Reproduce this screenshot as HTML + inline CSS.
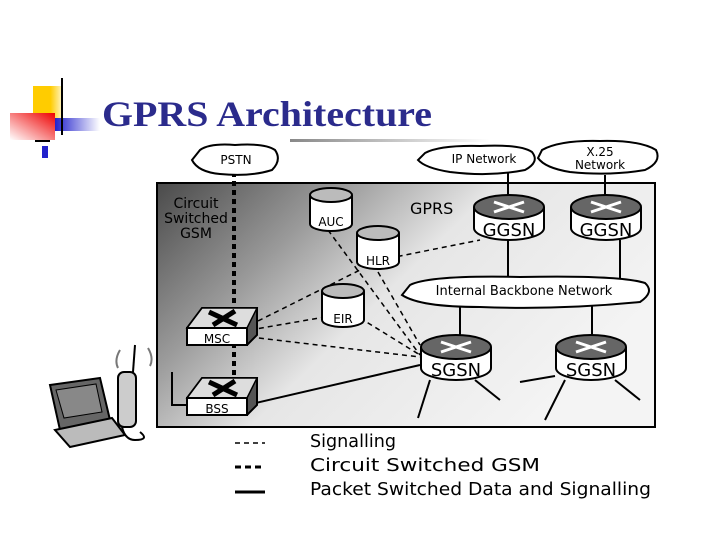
<!DOCTYPE html><html><head><style>body{margin:0;background:#fff;width:720px;height:540px;overflow:hidden}</style></head><body>
<svg width="720" height="540" xmlns="http://www.w3.org/2000/svg" font-family="'DejaVu Sans', sans-serif">
<defs>
<linearGradient id="bg" x1="0" y1="0" x2="1" y2="0.5"><stop offset="0" stop-color="#4a4a4a"/><stop offset="0.3" stop-color="#9a9a9a"/><stop offset="0.55" stop-color="#e6e6e6"/><stop offset="1" stop-color="#f4f4f4"/></linearGradient>
<linearGradient id="red" x1="1" y1="0" x2="0" y2="1"><stop offset="0" stop-color="#e00"/><stop offset="1" stop-color="#fff"/></linearGradient>
<linearGradient id="blue" x1="0" y1="0" x2="1" y2="0"><stop offset="0" stop-color="#2222cc"/><stop offset="1" stop-color="#fff"/></linearGradient>
<linearGradient id="yel" x1="0" y1="0" x2="1" y2="0"><stop offset="0.6" stop-color="#ffcc00"/><stop offset="1" stop-color="#fff4c0"/></linearGradient>
<linearGradient id="ln" x1="0" y1="0" x2="1" y2="0"><stop offset="0" stop-color="#888"/><stop offset="1" stop-color="#fff"/></linearGradient>
<g id="rt"><path d="M0,14 L0,35 A35,12 0 0 0 70,35 L70,14" fill="#fff" stroke="#000" stroke-width="2"/><ellipse cx="35" cy="14" rx="35" ry="12" fill="#666" stroke="#000" stroke-width="2"/><path d="M20,9 L50,19 M50,9 L20,19" stroke="#fff" stroke-width="3"/></g>
<g id="cy"><path d="M0,8 L0,37 A21,7 0 0 0 42,37 L42,8" fill="#fff" stroke="#000" stroke-width="2"/><ellipse cx="21" cy="8" rx="21" ry="7" fill="#bbb" stroke="#000" stroke-width="2"/></g>
<g id="sw"><path d="M0,20 L15,0 L70,0 L70,27 L60,37 L0,37 Z" fill="#555" stroke="#000" stroke-width="2"/><path d="M0,20 L15,0 L70,0 L60,20 Z" fill="#ddd" stroke="#000" stroke-width="1.5"/><path d="M22,4 L50,17 M48,3 L26,17" stroke="#000" stroke-width="5"/><rect x="0" y="20" width="60" height="17" fill="#fff" stroke="#000" stroke-width="2"/></g>
</defs>
<rect x="33" y="86" width="29" height="32" fill="url(#yel)"/>
<rect x="10" y="113" width="45" height="27" fill="url(#red)"/>
<rect x="55" y="118" width="45" height="13" fill="url(#blue)"/>
<rect x="61" y="78" width="2" height="57" fill="#000"/>
<rect x="35" y="140" width="15" height="2" fill="#000"/>
<rect x="42" y="146" width="6" height="12" fill="#2222cc"/>
<text x="102" y="126" font-family="'Liberation Serif', serif" font-weight="bold" font-size="36" fill="#2b2b8c" textLength="330" lengthAdjust="spacingAndGlyphs">GPRS Architecture</text>
<rect x="290" y="139" width="200" height="3" fill="url(#ln)"/>
<rect x="157" y="183" width="498" height="244" fill="url(#bg)" stroke="#000" stroke-width="2"/>
<g stroke="#000" stroke-width="1.5" stroke-dasharray="5,4" fill="none">
<path d="M328,230 L420,355 M380,260 L480,240 M378,272 L420,345 M360,318 L420,355 M250,325 L360,270 M250,330 L325,317 M250,337 L420,357"/>
</g>
<path d="M234,172 L234,380" stroke="#000" stroke-width="4" stroke-dasharray="5,4"/>
<g stroke="#000" stroke-width="2" fill="none">
<path d="M508,170 L508,195 M605,175 L605,195 M508,240 L508,280 M620,240 L620,280 M460,305 L460,335 M592,305 L592,335 M247,405 L420,365 M430,380 L418,418 M475,380 L500,400 M565,380 L545,420 M615,380 L640,400 M555,376 L520,382 M172,372 L172,405 L187,405"/>
</g>
<g fill="#fff" stroke="#000" stroke-width="2">
<path d="M200,150 Q210,143 235,145 Q265,143 275,150 Q282,160 272,170 Q250,177 220,174 Q198,172 192,160 Z"/>
<path d="M425,153 Q440,145 480,146 Q520,144 532,152 Q540,162 525,170 Q490,177 450,172 Q425,168 418,160 Z"/>
<path d="M542,150 Q560,140 600,141 Q640,140 656,150 Q662,162 645,170 Q610,176 570,172 Q545,168 538,158 Z"/>
<path d="M410,285 Q430,275 520,277 Q620,275 645,283 Q655,292 640,302 Q560,310 480,307 Q420,307 402,295 Z"/>
</g>
<g font-size="12" text-anchor="middle" fill="#000">
<text x="236" y="164">PSTN</text>
<text x="484" y="163">IP Network</text>
<text x="600" y="156">X.25</text><text x="600" y="169">Network</text>
<text x="524" y="295" font-size="13">Internal Backbone Network</text>
</g>
<use href="#cy" x="310" y="187"/><use href="#cy" x="357" y="225"/><use href="#cy" x="322" y="283"/>
<use href="#rt" x="474" y="193"/><use href="#rt" x="571" y="193"/>
<use href="#rt" x="421" y="333"/><use href="#rt" x="556" y="333"/>
<use href="#sw" x="187" y="308"/><use href="#sw" x="187" y="378"/>
<g font-size="13" text-anchor="middle" fill="#000">
<text x="331" y="226" font-size="12">AUC</text>
<text x="378" y="265" font-size="12">HLR</text>
<text x="343" y="323" font-size="12">EIR</text>
<text x="509" y="236" font-size="18">GGSN</text>
<text x="606" y="236" font-size="18">GGSN</text>
<text x="456" y="376" font-size="18">SGSN</text>
<text x="591" y="376" font-size="18">SGSN</text>
<text x="217" y="343" font-size="12">MSC</text>
<text x="217" y="413" font-size="12">BSS</text>
</g>
<g font-size="14" fill="#000">
<text x="196" y="208" text-anchor="middle">Circuit</text>
<text x="196" y="223" text-anchor="middle">Switched</text>
<text x="196" y="238" text-anchor="middle">GSM</text>
<text x="410" y="214" font-size="16">GPRS</text>
</g>
<path d="M50,385 L100,378 L110,420 L60,430 Z" fill="#666" stroke="#000" stroke-width="2"/>
<path d="M56,390 L96,384 L102,412 L64,418 Z" fill="#888" stroke="#000"/>
<path d="M55,430 L112,418 L125,435 L70,447 Z" fill="#bbb" stroke="#000" stroke-width="2"/>
<rect x="118" y="372" width="18" height="55" rx="6" fill="#ccc" stroke="#000" stroke-width="2"/>
<path d="M133,372 L135,345" stroke="#000" stroke-width="2"/>
<path d="M122,427 Q125,440 135,440 Q150,440 140,432" stroke="#000" fill="none" stroke-width="2"/>
<path d="M120,350 Q114,360 118,368 M148,348 Q154,358 150,366" stroke="#777" fill="none" stroke-width="2"/>
<g stroke="#000"><path d="M235,443 L265,443" stroke-width="1.5" stroke-dasharray="5,4"/><path d="M235,467 L265,467" stroke-width="3" stroke-dasharray="6,4"/><path d="M235,492 L265,492" stroke-width="3"/></g>
<g font-size="18" fill="#000"><text x="310" y="447" textLength="86" lengthAdjust="spacingAndGlyphs">Signalling</text><text x="310" y="471" textLength="230" lengthAdjust="spacingAndGlyphs">Circuit Switched GSM</text><text x="310" y="495" textLength="341" lengthAdjust="spacingAndGlyphs">Packet Switched Data and Signalling</text></g>
</svg></body></html>
